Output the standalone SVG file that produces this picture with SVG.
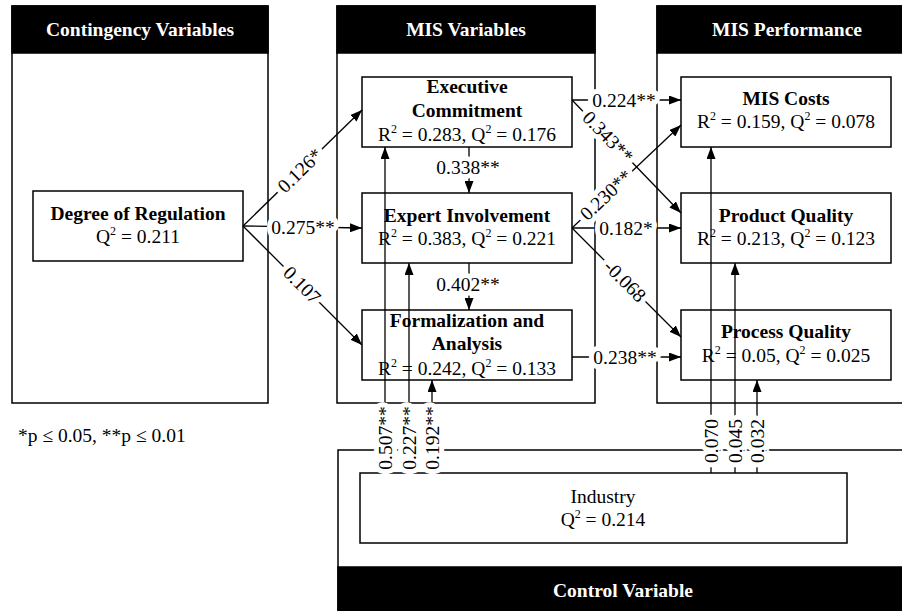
<svg xmlns="http://www.w3.org/2000/svg" width="902" height="611" viewBox="0 0 902 611">
<defs>
<style>
.panel{fill:none;stroke:#000;stroke-width:1.5}
.hdr{fill:#000;stroke:#000;stroke-width:1.5}
.box{fill:#fff;stroke:#000;stroke-width:1.5}
.t{font-family:"Liberation Serif","Times New Roman",serif;font-size:19.5px;fill:#000}
.b{font-weight:bold}
.ht{font-family:"Liberation Serif","Times New Roman",serif;font-size:19.5px;font-weight:bold;fill:#fff}
.sup{font-size:12px}
.c{stroke:#000;stroke-width:1.3;fill:none}
.lbl{font-family:"Liberation Serif","Times New Roman",serif;font-size:19.5px;fill:#000;paint-order:stroke;stroke:#fff;stroke-width:10px;stroke-linejoin:round;dominant-baseline:central;text-anchor:middle}
</style>
<marker id="a" viewBox="0 0 12 9" refX="12" refY="4.5" markerWidth="12" markerHeight="9" markerUnits="userSpaceOnUse" orient="auto"><path d="M0,0 L12,4.5 L0,9 z" fill="#000"/></marker>
</defs>

<g id="panel-contingency">
<rect class="panel" x="12" y="6" width="256" height="397"/>
<rect class="hdr" x="12" y="6" width="256" height="47"/>
<text class="ht" x="140" y="36" text-anchor="middle">Contingency Variables</text>
</g>
<g id="panel-mis-variables">
<rect class="panel" x="337" y="6" width="258" height="397"/>
<rect class="hdr" x="337" y="6" width="258" height="47"/>
<text class="ht" x="466" y="36" text-anchor="middle">MIS Variables</text>
</g>
<g id="panel-mis-performance">
<rect class="panel" x="657" y="6" width="260" height="397"/>
<rect class="hdr" x="657" y="6" width="260" height="47"/>
<text class="ht" x="787" y="36" text-anchor="middle">MIS Performance</text>
</g>
<g id="panel-control">
<rect class="panel" x="338" y="450" width="572" height="170"/>
<rect class="hdr" x="338" y="567" width="572" height="50"/>
<text class="ht" x="623" y="597" text-anchor="middle">Control Variable</text>
</g>

<g id="degree-of-regulation">
<rect class="box" x="33" y="191" width="210" height="70"/>
<text class="t b" x="138" y="220" text-anchor="middle">Degree of Regulation</text>
<text class="t" x="138" y="243" text-anchor="middle">Q<tspan class="sup" dy="-8">2</tspan><tspan dy="8"> = 0.211</tspan></text>
</g>
<g id="executive-commitment">
<rect class="box" x="362" y="77" width="210" height="70"/>
<text class="t b" x="467" y="93" text-anchor="middle">Executive</text>
<text class="t b" x="467" y="117" text-anchor="middle">Commitment</text>
<text class="t" x="467" y="141" text-anchor="middle">R<tspan class="sup" dy="-8">2</tspan><tspan dy="8"> = 0.283, Q</tspan><tspan class="sup" dy="-8">2</tspan><tspan dy="8"> = 0.176</tspan></text>
</g>
<g id="expert-involvement">
<rect class="box" x="362" y="193" width="210" height="70"/>
<text class="t b" x="467" y="222" text-anchor="middle">Expert Involvement</text>
<text class="t" x="467" y="245" text-anchor="middle">R<tspan class="sup" dy="-8">2</tspan><tspan dy="8"> = 0.383, Q</tspan><tspan class="sup" dy="-8">2</tspan><tspan dy="8"> = 0.221</tspan></text>
</g>
<g id="formalization-analysis">
<rect class="box" x="362" y="310" width="210" height="70"/>
<text class="t b" x="467" y="327" text-anchor="middle">Formalization and</text>
<text class="t b" x="467" y="350" text-anchor="middle">Analysis</text>
<text class="t" x="467" y="375" text-anchor="middle">R<tspan class="sup" dy="-8">2</tspan><tspan dy="8"> = 0.242, Q</tspan><tspan class="sup" dy="-8">2</tspan><tspan dy="8"> = 0.133</tspan></text>
</g>
<g id="mis-costs">
<rect class="box" x="681" y="77" width="210" height="70"/>
<text class="t b" x="786" y="105" text-anchor="middle">MIS Costs</text>
<text class="t" x="786" y="128" text-anchor="middle">R<tspan class="sup" dy="-8">2</tspan><tspan dy="8"> = 0.159, Q</tspan><tspan class="sup" dy="-8">2</tspan><tspan dy="8"> = 0.078</tspan></text>
</g>
<g id="product-quality">
<rect class="box" x="681" y="193" width="210" height="70"/>
<text class="t b" x="786" y="222" text-anchor="middle">Product Quality</text>
<text class="t" x="786" y="245" text-anchor="middle">R<tspan class="sup" dy="-8">2</tspan><tspan dy="8"> = 0.213, Q</tspan><tspan class="sup" dy="-8">2</tspan><tspan dy="8"> = 0.123</tspan></text>
</g>
<g id="process-quality">
<rect class="box" x="681" y="310" width="210" height="70"/>
<text class="t b" x="786" y="338" text-anchor="middle">Process Quality</text>
<text class="t" x="786" y="362" text-anchor="middle">R<tspan class="sup" dy="-8">2</tspan><tspan dy="8"> = 0.05, Q</tspan><tspan class="sup" dy="-8">2</tspan><tspan dy="8"> = 0.025</tspan></text>
</g>
<g id="industry">
<rect class="box" x="360" y="473" width="487" height="70"/>
<text class="t" x="603" y="503" text-anchor="middle">Industry</text>
<text class="t" x="603" y="526" text-anchor="middle">Q<tspan class="sup" dy="-8">2</tspan><tspan dy="8"> = 0.214</tspan></text>
</g>

<g id="connectors">
<line class="c" x1="243" y1="226" x2="362" y2="110" marker-end="url(#a)"/>
<line class="c" x1="243" y1="226" x2="362" y2="228" marker-end="url(#a)"/>
<line class="c" x1="243" y1="226" x2="362" y2="345" marker-end="url(#a)"/>
<line class="c" x1="469" y1="147" x2="469" y2="193" marker-end="url(#a)"/>
<line class="c" x1="469" y1="263" x2="469" y2="310" marker-end="url(#a)"/>
<line class="c" x1="572" y1="100" x2="681" y2="100" marker-end="url(#a)"/>
<line class="c" x1="572" y1="100" x2="681" y2="213" marker-end="url(#a)"/>
<line class="c" x1="572" y1="228" x2="681" y2="125" marker-end="url(#a)"/>
<line class="c" x1="572" y1="228" x2="681" y2="228" marker-end="url(#a)"/>
<line class="c" x1="572" y1="228" x2="681" y2="337" marker-end="url(#a)"/>
<line class="c" x1="572" y1="357" x2="681" y2="357" marker-end="url(#a)"/>
<line class="c" x1="385" y1="473" x2="385" y2="147" marker-end="url(#a)"/>
<line class="c" x1="409" y1="473" x2="409" y2="263" marker-end="url(#a)"/>
<line class="c" x1="432" y1="473" x2="432" y2="380" marker-end="url(#a)"/>
<line class="c" x1="711" y1="473" x2="711" y2="147" marker-end="url(#a)"/>
<line class="c" x1="735" y1="473" x2="735" y2="263" marker-end="url(#a)"/>
<line class="c" x1="757" y1="473" x2="757" y2="380" marker-end="url(#a)"/>

<text class="lbl" transform="translate(300,170.5) rotate(-44.3)">0.126*</text>
<text class="lbl" x="303" y="227">0.275**</text>
<text class="lbl" transform="translate(302,285) rotate(45)">0.107</text>
<text class="lbl" x="468" y="167">0.338**</text>
<text class="lbl" x="468" y="284">0.402**</text>
<text class="lbl" x="624" y="100">0.224**</text>
<text class="lbl" transform="translate(608,137) rotate(46)">0.343**</text>
<text class="lbl" transform="translate(606,195) rotate(-43.4)">0.230**</text>
<text class="lbl" x="626" y="228">0.182*</text>
<text class="lbl" transform="translate(625,281) rotate(45)">-0.068</text>
<text class="lbl" x="625" y="357">0.238**</text>
<text class="lbl" transform="translate(385,438) rotate(-90)">0.507**</text>
<text class="lbl" transform="translate(409,438) rotate(-90)">0.227**</text>
<text class="lbl" transform="translate(432,438) rotate(-90)">0.192**</text>
<text class="lbl" transform="translate(711,441) rotate(-90)">0.070</text>
<text class="lbl" transform="translate(735,441) rotate(-90)">0.045</text>
<text class="lbl" transform="translate(757,441) rotate(-90)">0.032</text>
</g>

<text id="footnote" class="t" x="18" y="442">*p ≤ 0.05, **p ≤ 0.01</text>
</svg>
